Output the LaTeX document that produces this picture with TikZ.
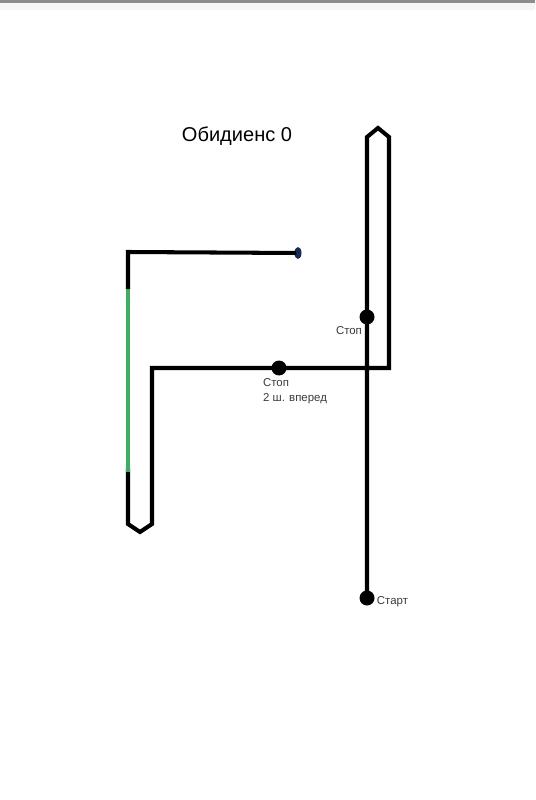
\documentclass[tikz,border=0pt]{standalone}
\usepackage{fontspec}
\setmainfont{Liberation Sans}
\usetikzlibrary{positioning,shapes.geometric}
\definecolor{routegreen}{HTML}{3FAE62}
\definecolor{enddot}{HTML}{1B2A55}
\definecolor{labelgray}{HTML}{3A3A3A}
\tikzset{
  route/.style={line width=2.3pt},
  stopdot/.style={circle,fill=black,inner sep=0pt,minimum size=0.3cm},
  smalltext/.style={font=\fontsize{6.5}{8.5}\selectfont,text=labelgray,inner sep=1pt}
}
\begin{document}
\begin{tikzpicture}[x=0.02cm,y=-0.02cm,line cap=rect,line join=miter]
  \useasboundingbox (0,0) rectangle (535,800);
  \fill[black!45] (0,0) rectangle (535,3);
  \fill[black!4] (0,3) rectangle (535,10);
  % corners of the route
  \coordinate (R1) at (367,137);
  \coordinate (R2) at (378,128);
  \coordinate (R3) at (389,137);
  \coordinate (R4) at (389,368);
  \coordinate (L1) at (152,368);
  \coordinate (L2) at (152,524);
  \coordinate (L3) at (140,532);
  \coordinate (L4) at (128,524);
  \coordinate (G1) at (128,470);
  \coordinate (G2) at (128,287);
  \coordinate (T1) at (128,252);
  \node[stopdot] (start) at (367,598) {};
  \node[stopdot] (stopA) at (367,317) {};
  \node[stopdot] (stopB) at (279,368) {};
  \node[ellipse,fill=enddot,inner sep=0pt,minimum width=0.14cm,minimum height=0.24cm] (finish) at (298,253) {};
  \draw[route] (start) -- (R1) -- (R2) -- (R3) -- (R4) -- (L1) -- (L2) -- (L3) -- (L4) -- (G1);
  \draw[route,routegreen] (G1) -- (G2);
  \draw[route] (G2) -- (T1) -- (finish);
  \node[font=\fontsize{11.4}{13}\selectfont] (title) at (237,136) {Обидиенс 0};
  \node[smalltext,anchor=north east] (stopAtext) at (364,324) {Стоп};
  \node[smalltext,align=left,anchor=north west] (stopBtext) at (261,376) {Стоп\\2 ш. вперед};
  \node[smalltext,right=0pt,yshift=-2pt] (starttext) at (start.east) {Старт};
\end{tikzpicture}
\end{document}
